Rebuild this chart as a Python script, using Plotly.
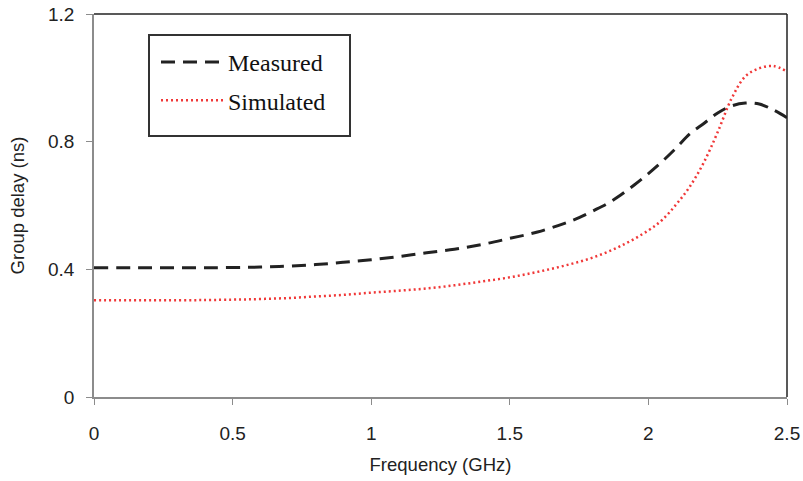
import plotly.graph_objects as go

freq_meas = [0, 0.2, 0.4, 0.6, 0.7, 0.8, 0.9, 1.0, 1.1, 1.2, 1.3, 1.4, 1.5, 1.6, 1.7, 1.75, 1.8, 1.85,
             1.9, 1.95, 2.0, 2.05, 2.1, 2.15, 2.2, 2.25, 2.3, 2.35, 2.4, 2.45, 2.5]
delay_meas = [0.405, 0.405, 0.405, 0.407, 0.41, 0.415, 0.422, 0.43, 0.44, 0.452, 0.463, 0.478, 0.497,
              0.517, 0.545, 0.562, 0.583, 0.605, 0.633, 0.665, 0.70, 0.738, 0.78, 0.825, 0.857, 0.89,
              0.912, 0.921, 0.918, 0.90, 0.875]

freq_sim = [0, 0.3, 0.5, 0.6, 0.7, 0.8, 0.9, 1.0, 1.1, 1.2, 1.3, 1.4, 1.5, 1.6, 1.7, 1.8, 1.9, 2.0,
            2.05, 2.1, 2.15, 2.2, 2.25, 2.3, 2.35, 2.4, 2.45, 2.5]
delay_sim = [0.303, 0.303, 0.305, 0.307, 0.31, 0.315, 0.32, 0.327, 0.333, 0.34, 0.35, 0.362, 0.375,
             0.392, 0.412, 0.437, 0.473, 0.522, 0.555, 0.603, 0.66, 0.735, 0.83, 0.935, 1.005, 1.03,
             1.037, 1.02]

x_ticks = [0, 0.5, 1, 1.5, 2, 2.5]
x_labels = ["0", "0.5", "1", "1.5", "2", "2.5"]
y_ticks = [0, 0.4, 0.8, 1.2]
y_labels = ["0", "0.4", "0.8", "1.2"]

fig = go.Figure()
fig.add_trace(go.Scatter(x=freq_meas, y=delay_meas, mode="lines", name="Measured",
                         line=dict(color="#222222", width=3, dash="14px,8px", shape="spline"),
                         legendgroup="a"))
fig.add_trace(go.Scatter(x=freq_sim, y=delay_sim, mode="lines", name="Simulated",
                         line=dict(color="#f03838", width=2.5, dash="2px,3px", shape="spline"),
                         legendgroup="b"))

tick_font = dict(family="Liberation Sans, Arial, sans-serif", size=19, color="#222222")
title_font = dict(family="Liberation Sans, Arial, sans-serif", size=18.5, color="#222222")
fig.update_layout(
    width=803, height=481,
    margin=dict(l=94, r=16, t=14, b=84),
    paper_bgcolor="white", plot_bgcolor="white",
    xaxis=dict(range=[0, 2.5], tickvals=x_ticks, ticktext=x_labels, showgrid=False, zeroline=False,
               showline=True, linecolor="#8c8c8c", linewidth=1.5, ticks="outside", ticklen=6,
               tickcolor="#8c8c8c", tickfont=tick_font, automargin=False, ticklabelstandoff=12,
               title=dict(text="Frequency (GHz)", font=title_font, standoff=16)),
    yaxis=dict(range=[0, 1.2], tickvals=y_ticks, ticktext=y_labels, showgrid=False, zeroline=False,
               showline=True, linecolor="#8c8c8c", linewidth=1.5, ticks="outside", ticklen=6,
               tickcolor="#8c8c8c", tickfont=tick_font, automargin=False, ticklabelstandoff=8,
               title=dict(text="Group delay (ns)", font=title_font, standoff=19)),
    legend=dict(x=(156 - 94) / 693, y=(397 - 40) / 383, xanchor="left", yanchor="top",
                borderwidth=0, bgcolor="rgba(0,0,0,0)",
                font=dict(family="Liberation Serif, Times New Roman, serif", size=24, color="#111111"),
                tracegroupgap=4, itemwidth=62),
    showlegend=True,
)
# frame: top and right borders in black
fig.add_shape(type="line", xref="paper", yref="paper", x0=0, x1=1, y0=1, y1=1,
              line=dict(color="#222222", width=1.5))
fig.add_shape(type="line", xref="paper", yref="paper", x0=1, x1=1, y0=0, y1=1,
              line=dict(color="#222222", width=1.5))
# legend frame
fig.add_shape(type="rect", xref="paper", yref="paper",
              x0=(149 - 94) / 693, x1=(350 - 94) / 693, y0=(397 - 136) / 383, y1=(397 - 35) / 383,
              line=dict(color="#333333", width=2), fillcolor="white", layer="below")

fig.write_html("out.html", config={"displayModeBar": False},
               post_script="document.body.style.margin='0px';")
